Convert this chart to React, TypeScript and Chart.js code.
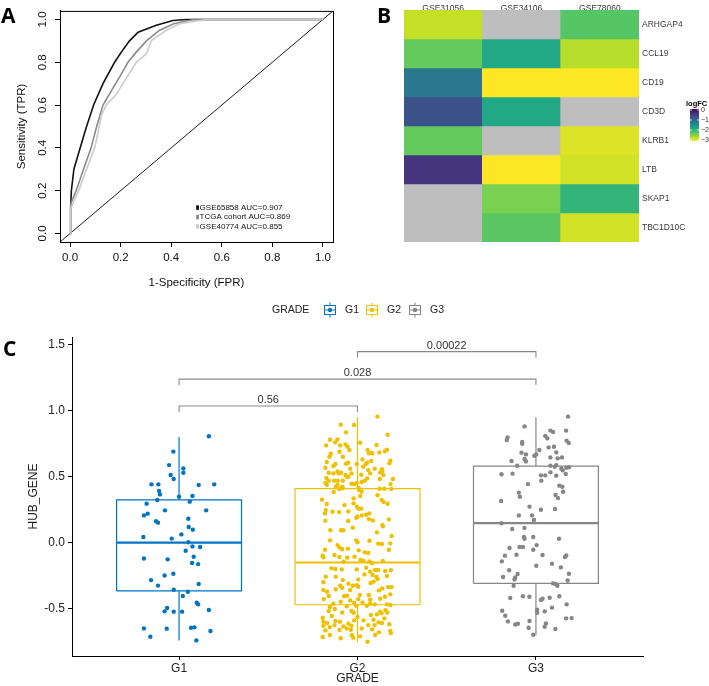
import React, { useEffect, useRef } from 'react';
import { Chart, registerables } from 'chart.js';
Chart.register(...registerables);

const FONT = "'Liberation Sans', Arial, Helvetica, sans-serif";

// ---------- Panel A : ROC ----------
const ROC_NAMES = ['GSE65858 AUC=0.907', 'TCGA cohort AUC=0.869', 'GSE40774 AUC=0.855'];
const ROC_COLORS = ['#111111', '#8a8a8a', '#cbcbcb'];
const ROC1_FPR = [0, 0.002, 0.005, 0.015, 0.04, 0.065, 0.093, 0.13, 0.176, 0.21, 0.235, 0.269, 0.341, 0.407, 0.46, 1.0];
const ROC1_TPR = [0, 0.12, 0.2, 0.3, 0.4, 0.5, 0.6, 0.7, 0.8, 0.86, 0.9, 0.94, 0.973, 0.995, 1.0, 1.0];
const ROC2_FPR = [0, 0.003, 0.024, 0.05, 0.083, 0.105, 0.13, 0.17, 0.2, 0.229, 0.26, 0.302, 0.354, 0.41, 0.487, 1.0];
const ROC2_TPR = [0, 0.14, 0.2, 0.29, 0.4, 0.5, 0.6, 0.68, 0.74, 0.8, 0.845, 0.9, 0.95, 0.98, 1.0, 1.0];
const ROC3_FPR = [0, 0.003, 0.034, 0.065, 0.097, 0.112, 0.123, 0.143, 0.183, 0.209, 0.262, 0.302, 0.321, 0.381, 0.434, 0.54, 1.0];
const ROC3_TPR = [0, 0.12, 0.2, 0.3, 0.4, 0.48, 0.55, 0.6, 0.65, 0.7, 0.8, 0.84, 0.9, 0.95, 0.98, 1.0, 1.0];
const ROC_TICKS = [0, 0.2, 0.4, 0.6, 0.8, 1.0];
const ROC_MIN = -0.04;
const ROC_MAX = 1.04;

// ---------- Panel B : heatmap ----------
const HM_COLS = ['GSE31056', 'GSE34106', 'GSE78060'];
const HM_ROWS = ['ARHGAP4', 'CCL19', 'CD19', 'CD3D', 'KLRB1', 'LTB', 'SKAP1', 'TBC1D10C'];
const HM_GSE31056 = [-2.81, -2.33, -1.18, -0.7, -2.33, -0.38, null, null];
const HM_GSE34106 = [null, -1.82, -3.1, -1.82, null, -3.1, -2.46, -2.27];
const HM_GSE78060 = [-2.24, -2.75, -3.1, null, -2.94, -2.88, -1.98, -2.88];
const LOGFC_TICKS = [0, -1, -2, -3];
const FC_MAX = 0.1;
const FC_MIN = -3.1;
const NA_COLOR = '#bebebe';
const VIRIDIS = ['#440154', '#482475', '#414487', '#355f8d', '#2a788e', '#21918c', '#22a884', '#44bf70', '#7ad151', '#bddf26', '#fde725'];

// ---------- Panel C : boxplot ----------
const GRADES = ['G1', 'G2', 'G3'];
const GRADE_COLORS = ['#0073C2', '#EFC000', '#868686'];
const BOX_LOW = [-0.74, -0.75, -0.70];
const BOX_Q1 = [-0.365, -0.47, -0.308];
const BOX_MED = [0.0, -0.15, 0.149];
const BOX_Q3 = [0.325, 0.41, 0.58];
const BOX_HIGH = [0.80, 0.95, 0.95];
const BOX_HALF = 0.35;
const C_TICKS = [-0.5, 0, 0.5, 1.0, 1.5];
const BRACKET_FROM = [0, 0, 1];
const BRACKET_TO = [1, 2, 2];
const BRACKET_Y = [1.035, 1.239, 1.447];
const BRACKET_P = ['0.56', '0.028', '0.00022'];
const BRACKET_TIP = 0.045;

// [jitter, value]
const G1_POINTS = [
  [0.167, 0.806], [-0.032, 0.690], [-0.056, 0.588], [0.024, 0.563], [0.024, 0.530], [-0.047, 0.513], [-0.030, 0.483], [-0.155, 0.442], [-0.116, 0.442], [0.110, 0.437], [0.197, 0.442], [-0.112, 0.392], [-0.107, 0.366], [0.0, 0.349], [0.075, 0.354], [-0.122, 0.323], [0.060, 0.311], [-0.182, 0.296], [-0.079, 0.245], [0.152, 0.245], [-0.197, 0.207], [-0.176, 0.220], [-0.129, 0.162], [-0.118, 0.152], [0.052, 0.182], [0.054, 0.119], [0.077, 0.099], [0.013, 0.063], [-0.200, 0.043], [-0.041, 0.031], [0.052, 0.003], [0.075, -0.028], [0.118, -0.033], [0.037, -0.061], [-0.197, -0.119], [-0.064, -0.126], [0.082, -0.106], [0.073, -0.154], [0.107, -0.162], [-0.081, -0.248], [-0.032, -0.235], [-0.157, -0.283], [-0.118, -0.325], [0.110, -0.313], [-0.030, -0.356], [0.049, -0.371], [0.021, -0.404], [0.099, -0.455], [0.107, -0.467], [-0.067, -0.495], [-0.081, -0.520], [-0.030, -0.522], [0.017, -0.522], [0.167, -0.510], [-0.197, -0.649], [-0.069, -0.651], [0.067, -0.644], [0.086, -0.641], [0.176, -0.669], [-0.161, -0.712], [0.097, -0.740],
];
const G2_POINTS = [
  [0.112, 0.955], [-0.094, 0.894], [-0.019, 0.891], [-0.064, 0.836], [0.169, 0.818], [-0.154, 0.780], [-0.112, 0.783], [-0.125, 0.760], [0.015, 0.758], [-0.176, 0.737], [-0.097, 0.737], [-0.067, 0.745], [-0.056, 0.727], [0.107, 0.740], [-0.045, 0.702], [0.056, 0.702], [0.071, 0.682], [-0.101, 0.689], [0.122, 0.684], [0.154, 0.692], [0.165, 0.705], [-0.150, 0.674], [-0.157, 0.651], [-0.082, 0.651], [0.064, 0.677], [0.082, 0.677], [0.028, 0.631], [0.184, 0.621], [-0.172, 0.611], [-0.124, 0.596], [-0.064, 0.598], [-0.052, 0.606], [-0.004, 0.596], [0.047, 0.596], [0.077, 0.619], [0.054, 0.606], [0.178, 0.601], [-0.180, 0.568], [-0.135, 0.581], [-0.041, 0.561], [0.032, 0.576], [0.097, 0.561], [0.137, 0.556], [0.060, 0.550], [-0.161, 0.530], [-0.135, 0.525], [-0.112, 0.540], [-0.105, 0.525], [-0.092, 0.530], [-0.067, 0.513], [-0.034, 0.525], [0.021, 0.515], [0.071, 0.525], [0.127, 0.533], [0.139, 0.543], [0.144, 0.513], [-0.174, 0.490], [-0.060, 0.500], [-0.051, 0.500], [-0.161, 0.470], [-0.131, 0.470], [-0.110, 0.470], [-0.082, 0.470], [0.054, 0.487], [0.125, 0.482], [0.199, 0.482], [-0.180, 0.452], [-0.112, 0.437], [-0.034, 0.447], [-0.019, 0.444], [-0.004, 0.450], [0.024, 0.460], [0.041, 0.470], [0.185, 0.444], [-0.122, 0.424], [-0.086, 0.424], [-0.172, 0.439], [-0.101, 0.407], [-0.082, 0.412], [0.006, 0.417], [0.009, 0.399], [0.124, 0.409], [0.150, 0.409], [0.189, 0.407], [-0.133, 0.384], [0.024, 0.386], [0.112, 0.359], [0.015, 0.354], [-0.199, 0.326], [-0.022, 0.336], [0.135, 0.323], [0.146, 0.308], [-0.172, 0.293], [-0.073, 0.285], [-0.022, 0.298], [-0.004, 0.273], [0.006, 0.258], [0.021, 0.258], [0.169, 0.295], [-0.178, 0.247], [-0.140, 0.235], [-0.103, 0.232], [-0.051, 0.237], [0.066, 0.222], [0.049, 0.212], [0.024, 0.207], [-0.182, 0.222], [0.000, 0.197], [-0.007, 0.189], [-0.180, 0.167], [-0.052, 0.164], [0.064, 0.179], [0.086, 0.169], [0.176, 0.177], [0.140, 0.134],
  [-0.152, 0.094], [-0.092, 0.094], [-0.079, 0.094], [-0.026, 0.114], [0.109, 0.078], [0.142, 0.124], [0.191, 0.051], [-0.154, 0.018], [-0.007, 0.018], [0.000, 0.003], [0.067, 0.015], [0.116, -0.007], [0.137, -0.010], [0.184, -0.005], [-0.112, -0.018], [-0.101, -0.035], [-0.086, -0.050], [-0.054, -0.045], [-0.182, -0.053], [0.007, -0.058], [0.041, -0.073], [0.060, -0.078], [0.176, -0.053], [-0.195, -0.098], [-0.191, -0.111], [-0.129, -0.093], [-0.101, -0.108], [-0.058, -0.113], [-0.017, -0.106], [0.017, -0.131], [0.034, -0.139], [0.067, -0.141], [0.082, -0.156], [0.142, -0.139], [-0.077, -0.144], [-0.146, -0.194], [-0.124, -0.199], [-0.088, -0.202], [-0.004, -0.202], [0.049, -0.189], [0.071, -0.220], [0.099, -0.207], [0.116, -0.207], [0.155, -0.214], [0.187, -0.209], [-0.178, -0.257], [-0.122, -0.257], [-0.082, -0.283], [0.004, -0.278], [0.039, -0.240], [0.084, -0.245], [0.105, -0.257], [0.112, -0.275], [0.165, -0.252], [-0.191, -0.300], [-0.051, -0.310], [0.073, -0.305], [0.090, -0.295], [-0.097, -0.326], [-0.086, -0.341], [-0.026, -0.326], [-0.004, -0.321], [0.004, -0.333], [0.139, -0.346], [0.172, -0.336], [0.191, -0.336], [-0.191, -0.358], [-0.170, -0.371], [-0.122, -0.353], [-0.041, -0.358], [0.120, -0.361], [-0.161, -0.404], [-0.075, -0.406], [-0.058, -0.401], [0.013, -0.396], [0.064, -0.396], [0.154, -0.409], [0.184, -0.391], [-0.189, -0.427], [-0.041, -0.437], [0.004, -0.427], [0.071, -0.432], [0.127, -0.424], [-0.135, -0.462], [-0.094, -0.447], [-0.019, -0.454], [0.028, -0.452], [0.097, -0.467], [-0.154, -0.487], [-0.127, -0.502], [-0.060, -0.482], [-0.007, -0.477], [0.052, -0.477], [0.071, -0.462], [0.165, -0.467], [0.184, -0.472], [-0.161, -0.517], [-0.086, -0.528], [-0.034, -0.517], [-0.022, -0.530], [0.127, -0.523], [0.157, -0.512], [-0.195, -0.568], [-0.144, -0.555], [0.000, -0.563], [0.075, -0.548], [0.109, -0.543], [0.135, -0.535], [0.167, -0.528], [-0.191, -0.598], [-0.170, -0.608], [-0.124, -0.593], [-0.099, -0.598], [-0.051, -0.613], [-0.019, -0.588], [0.034, -0.588], [0.090, -0.583], [0.118, -0.603], [0.150, -0.573], [-0.191, -0.629], [-0.155, -0.639], [-0.129, -0.624], [-0.079, -0.634], [-0.034, -0.629], [0.060, -0.624], [0.096, -0.624], [0.137, -0.608], [0.178, -0.618], [-0.180, -0.664], [-0.101, -0.661], [-0.060, -0.649], [0.024, -0.649], [0.082, -0.656], [0.120, -0.679], [0.184, -0.669], [-0.154, -0.699], [-0.032, -0.699], [-0.024, -0.719], [0.015, -0.709], [0.099, -0.699], [0.187, -0.684], [-0.195, -0.714], [-0.094, -0.724], [0.056, -0.750], [-0.037, -0.659],
];
const G3_POINTS = [
  [0.180, 0.955], [-0.064, 0.881], [-0.159, 0.798], [-0.163, 0.778], [0.081, 0.849], [0.096, 0.839], [0.169, 0.849], [0.052, 0.808], [0.064, 0.790], [0.172, 0.773], [0.184, 0.755], [-0.077, 0.763], [-0.077, 0.750], [0.071, 0.722], [0.101, 0.727], [-0.081, 0.682], [-0.056, 0.669], [0.019, 0.702], [-0.009, 0.659], [0.002, 0.669], [0.114, 0.684], [0.081, 0.646], [0.146, 0.646], [0.122, 0.639], [-0.064, 0.634], [-0.056, 0.616], [-0.137, 0.619], [-0.105, 0.583], [0.081, 0.583], [0.105, 0.576], [0.114, 0.588], [0.142, 0.563], [0.150, 0.548], [0.170, 0.568], [0.185, 0.571], [-0.193, 0.518], [-0.131, 0.523], [0.028, 0.510], [0.052, 0.510], [0.081, 0.533], [0.114, 0.508], [0.167, 0.520], [0.030, 0.470], [-0.045, 0.444], [0.131, 0.432], [0.148, 0.424], [0.152, 0.386], [-0.096, 0.379], [-0.090, 0.348], [0.110, 0.361], [0.124, 0.338], [-0.195, 0.316], [-0.036, 0.273], [0.028, 0.250], [0.107, 0.255], [-0.096, 0.207], [-0.022, 0.207], [-0.011, 0.172], [-0.193, 0.147], [-0.133, 0.104], [-0.064, 0.112], [-0.067, 0.043], [-0.064, 0.030], [-0.015, 0.043], [0.129, 0.030], [-0.148, -0.040], [-0.092, -0.033], [-0.073, -0.033], [0.004, -0.018], [-0.015, -0.053], [-0.174, -0.098], [-0.109, -0.091], [0.037, -0.093], [-0.191, -0.141], [0.163, -0.108], [0.170, -0.096], [0.002, -0.174], [0.090, -0.159], [0.140, -0.187], [-0.150, -0.209], [-0.103, -0.237], [-0.116, -0.263], [-0.120, -0.278], [-0.184, -0.260], [0.185, -0.235], [0.178, -0.286], [-0.125, -0.326], [0.096, -0.308], [0.109, -0.313], [0.120, -0.326], [-0.144, -0.419], [-0.073, -0.406], [-0.037, -0.409], [0.028, -0.434], [0.037, -0.424], [0.077, -0.417], [0.131, -0.406], [0.007, -0.507], [0.007, -0.530], [0.049, -0.520], [0.090, -0.492], [0.172, -0.467], [-0.189, -0.515], [-0.172, -0.553], [-0.157, -0.596], [-0.116, -0.619], [-0.101, -0.614], [-0.036, -0.593], [-0.041, -0.644], [0.056, -0.611], [0.049, -0.636], [0.109, -0.654], [0.169, -0.573], [0.200, -0.571], [-0.015, -0.697],
];
const GROUP_POINTS = [G1_POINTS, G2_POINTS, G3_POINTS];

// ---------- helpers ----------
function hexRgb(h: string) {
  const n = parseInt(h.slice(1), 16);
  return [(n >> 16) & 255, (n >> 8) & 255, n & 255];
}
function viridis(t: number) {
  const c = Math.max(0, Math.min(1, t)) * (VIRIDIS.length - 1);
  const i = Math.min(VIRIDIS.length - 2, Math.floor(c));
  const f = c - i;
  const a = hexRgb(VIRIDIS[i]);
  const b = hexRgb(VIRIDIS[i + 1]);
  const m = a.map((v, k) => Math.round(v + (b[k] - v) * f));
  return `rgb(${m[0]},${m[1]},${m[2]})`;
}
function fcColor(v: number | null) {
  if (v === null || v === undefined) return NA_COLOR;
  return viridis((FC_MAX - v) / (FC_MAX - FC_MIN));
}
function letter(ctx: CanvasRenderingContext2D, txt: string, x: number, y: number) {
  ctx.save();
  ctx.fillStyle = '#000';
  ctx.font = "bold 21px 'Open Sans', 'Liberation Sans', sans-serif";
  ctx.textAlign = 'left';
  ctx.textBaseline = 'alphabetic';
  ctx.fillText(txt, x, y);
  ctx.restore();
}

// ---------- configs ----------
function configA(): any {
  const series = [
    [ROC1_FPR, ROC1_TPR],
    [ROC2_FPR, ROC2_TPR],
    [ROC3_FPR, ROC3_TPR],
  ];
  const datasets: any[] = series.map(([f, t], i) => ({
    label: ROC_NAMES[i],
    data: f.map((x, k) => ({ x, y: t[k] })),
    showLine: true,
    borderColor: ROC_COLORS[i],
    borderWidth: 1.6,
    pointRadius: 0,
    order: 3 - i,
  }));
  datasets.push({
    label: 'diag',
    data: [{ x: ROC_MIN, y: ROC_MIN }, { x: ROC_MAX, y: ROC_MAX }],
    showLine: true,
    borderColor: '#000',
    borderWidth: 0.9,
    pointRadius: 0,
    order: 10,
  });
  const tickFont = { size: 11.5, family: FONT };
  const plugin = {
    id: 'rocExtras',
    afterDraw(chart: any) {
      const { ctx, chartArea: ca } = chart;
      ctx.save();
      ctx.strokeStyle = '#000';
      ctx.lineWidth = 1;
      ctx.strokeRect(ca.left + 0.5, ca.top + 0.5, ca.right - ca.left, ca.bottom - ca.top);
      ctx.font = `8px ${FONT}`;
      ctx.textBaseline = 'middle';
      ctx.textAlign = 'left';
      ROC_NAMES.forEach((name, i) => {
        const y = ca.top + 196.7 + i * 9.4;
        ctx.fillStyle = ROC_COLORS[i];
        ctx.fillRect(ca.left + 136.2, y - 2.3, 2.8, 4.6);
        ctx.fillStyle = '#111';
        ctx.fillText(name, ca.left + 139.6, y);
      });
      ctx.restore();
      letter(ctx, 'A', 1, 23);
    },
  };
  return {
    type: 'scatter',
    data: { datasets },
    plugins: [plugin],
    options: {
      animation: false,
      responsive: false,
      events: [],
      layout: { padding: { left: 0, right: 12, top: 5, bottom: 0 } },
      plugins: { legend: { display: false }, tooltip: { enabled: false } },
      scales: {
        x: {
          type: 'linear', min: ROC_MIN, max: ROC_MAX,
          afterBuildTicks: (s: any) => { s.ticks = ROC_TICKS.map((v) => ({ value: v })); },
          afterFit: (s: any) => { s.height = 58; },
          ticks: { callback: (v: number) => v.toFixed(1), font: tickFont, color: '#111', padding: 4, maxRotation: 0, autoSkip: false },
          grid: { drawOnChartArea: false, drawTicks: true, tickLength: 5, color: '#000' },
          border: { display: true, color: '#000', width: 1 },
          title: { display: true, text: '1-Specificity (FPR)', font: tickFont, color: '#111', padding: { top: 0, bottom: 10 } },
        },
        y: {
          type: 'linear', min: ROC_MIN, max: ROC_MAX,
          afterBuildTicks: (s: any) => { s.ticks = ROC_TICKS.map((v) => ({ value: v })); },
          afterFit: (s: any) => { s.width = 60; },
          ticks: { callback: (v: number) => v.toFixed(1), font: tickFont, color: '#111', padding: 4, minRotation: 90, maxRotation: 90, crossAlign: 'center', autoSkip: false },
          grid: { drawOnChartArea: false, drawTicks: true, tickLength: 5, color: '#000' },
          border: { display: true, color: '#000', width: 1 },
          title: { display: true, text: 'Sensitivity (TPR)', font: tickFont, color: '#111', padding: { top: 15, bottom: 0 } },
        },
      },
    },
  };
}

function configB(): any {
  const cols = [HM_GSE31056, HM_GSE34106, HM_GSE78060];
  const datasets = HM_ROWS.map((row, r) => ({
    label: row,
    data: HM_COLS.map(() => [r, r + 1]),
    backgroundColor: cols.map((c) => fcColor(c[r])),
    borderWidth: 0,
    grouped: false,
    barPercentage: 1,
    categoryPercentage: 1,
  }));
  const plugin = {
    id: 'hmLegend',
    afterDraw(chart: any) {
      const { ctx, chartArea: ca } = chart;
      const x0 = ca.right + 51;
      const w = 9;
      const yTop = 109;
      const yBot = 141;
      ctx.save();
      const g = ctx.createLinearGradient(0, yTop, 0, yBot);
      VIRIDIS.forEach((c, i) => g.addColorStop(i / (VIRIDIS.length - 1), c));
      ctx.fillStyle = g;
      ctx.fillRect(x0, yTop, w, yBot - yTop);
      ctx.font = `bold 7.5px ${FONT}`;
      ctx.fillStyle = '#000';
      ctx.textAlign = 'left';
      ctx.textBaseline = 'alphabetic';
      ctx.fillText('logFC', x0 - 4, 106);
      ctx.font = `7px ${FONT}`;
      ctx.textBaseline = 'middle';
      ctx.fillStyle = '#333';
      LOGFC_TICKS.forEach((v) => {
        const y = yTop + ((FC_MAX - v) / (FC_MAX - FC_MIN)) * (yBot - yTop);
        ctx.strokeStyle = '#fff';
        ctx.lineWidth = 0.8;
        ctx.beginPath();
        ctx.moveTo(x0, y); ctx.lineTo(x0 + 2, y);
        ctx.moveTo(x0 + w - 2, y); ctx.lineTo(x0 + w, y);
        ctx.stroke();
        ctx.fillText(v === 0 ? '0' : '\u2212' + Math.abs(v), x0 + w + 2, y);
      });
      ctx.restore();
      letter(ctx, 'B', 17, 23);
    },
  };
  const lblFont = { size: 8.5, family: FONT };
  return {
    type: 'bar',
    data: { labels: HM_COLS, datasets },
    plugins: [plugin],
    options: {
      animation: false,
      responsive: false,
      events: [],
      layout: { padding: { left: 44, right: 0, top: 0, bottom: 8 } },
      plugins: { legend: { display: false }, tooltip: { enabled: false } },
      scales: {
        x: {
          type: 'category', position: 'top',
          afterFit: (s: any) => { s.height = 10; },
          grid: { display: false, drawTicks: false }, border: { display: false },
          ticks: { font: lblFont, color: '#3a3a3a', padding: -4, maxRotation: 0, autoSkip: false },
        },
        y: {
          type: 'linear', position: 'right', min: 0, max: HM_ROWS.length, reverse: true,
          afterBuildTicks: (s: any) => { s.ticks = HM_ROWS.map((_, i) => ({ value: i + 0.5 })); },
          afterFit: (s: any) => { s.width = 70; },
          grid: { display: false, drawTicks: false }, border: { display: false },
          ticks: { callback: (v: number) => HM_ROWS[Math.floor(v)], font: lblFont, color: '#3a3a3a', padding: 3, autoSkip: false },
        },
      },
    },
  };
}

function configC(): any {
  const datasets: any[] = [];
  GROUP_POINTS.forEach((pts, i) => {
    datasets.push({
      label: GRADES[i] + ' points',
      data: pts.map(([j, v]) => ({ x: i + 1 + j, y: v })),
      pointRadius: 2.2,
      pointBackgroundColor: GRADE_COLORS[i],
      pointBorderWidth: 0,
      showLine: false,
      order: 0,
    });
  });
  const line = (label: string, data: any[], color: string, width: number, order: number) => ({
    label, data, showLine: true, borderColor: color, borderWidth: width, pointRadius: 0, order,
    borderJoinStyle: 'miter', borderCapStyle: 'butt',
  });
  GRADES.forEach((g, i) => {
    const x = i + 1;
    const c = GRADE_COLORS[i];
    datasets.push(line(g + ' box', [
      { x: x - BOX_HALF, y: BOX_Q1 }, { x: x + BOX_HALF, y: BOX_Q1 }, { x: x + BOX_HALF, y: BOX_Q3 },
      { x: x - BOX_HALF, y: BOX_Q3 }, { x: x - BOX_HALF, y: BOX_Q1 },
    ].map((p: any) => ({ x: p.x, y: p.y[i] })), c, 1.2, 2));
    datasets.push(line(g + ' median', [{ x: x - BOX_HALF, y: BOX_MED[i] }, { x: x + BOX_HALF, y: BOX_MED[i] }], c, 2.2, 2));
    datasets.push(line(g + ' upper', [{ x, y: BOX_Q3[i] }, { x, y: BOX_HIGH[i] }], c, 1.2, 2));
    datasets.push(line(g + ' lower', [{ x, y: BOX_LOW[i] }, { x, y: BOX_Q1[i] }], c, 1.2, 2));
  });
  BRACKET_Y.forEach((y, k) => {
    const x1 = BRACKET_FROM[k] + 1;
    const x2 = BRACKET_TO[k] + 1;
    datasets.push(line('bracket ' + BRACKET_P[k], [
      { x: x1, y: y - BRACKET_TIP }, { x: x1, y }, { x: x2, y }, { x: x2, y: y - BRACKET_TIP },
    ], '#8a8a8a', 1.1, 1));
  });
  const tickFont = { size: 12, family: FONT };
  const plugin = {
    id: 'boxExtras',
    afterDatasetsDraw(chart: any) {
      const { ctx, scales } = chart;
      ctx.save();
      ctx.font = `11px ${FONT}`;
      ctx.fillStyle = '#333';
      ctx.textAlign = 'center';
      ctx.textBaseline = 'alphabetic';
      BRACKET_Y.forEach((y, k) => {
        const xm = (scales.x.getPixelForValue(BRACKET_FROM[k] + 1) + scales.x.getPixelForValue(BRACKET_TO[k] + 1)) / 2;
        ctx.fillText(BRACKET_P[k], xm, scales.y.getPixelForValue(y) - 3);
      });
      ctx.restore();
    },
    afterDraw(chart: any) {
      const { ctx } = chart;
      ctx.save();
      const ly = 20;
      ctx.font = `10.5px ${FONT}`;
      ctx.fillStyle = '#222';
      ctx.textBaseline = 'middle';
      ctx.textAlign = 'left';
      ctx.fillText('GRADE', 272, ly);
      const keyX = [330, 372, 415];
      GRADES.forEach((g, i) => {
        const cx = keyX[i];
        const c = GRADE_COLORS[i];
        ctx.strokeStyle = c;
        ctx.lineWidth = 1;
        ctx.strokeRect(cx - 5.5, ly - 4.5, 11, 9);
        ctx.beginPath();
        ctx.moveTo(cx, ly - 7.5); ctx.lineTo(cx, ly - 4.5);
        ctx.moveTo(cx, ly + 4.5); ctx.lineTo(cx, ly + 7.5);
        ctx.moveTo(cx - 5.5, ly); ctx.lineTo(cx + 5.5, ly);
        ctx.stroke();
        ctx.fillStyle = c;
        ctx.beginPath();
        ctx.arc(cx, ly, 2.2, 0, Math.PI * 2);
        ctx.fill();
        ctx.fillStyle = '#222';
        ctx.fillText(g, cx + 15, ly);
      });
      ctx.restore();
      letter(ctx, 'C', 3, 66);
    },
  };
  return {
    type: 'scatter',
    data: { datasets },
    plugins: [plugin],
    options: {
      animation: false,
      responsive: false,
      events: [],
      layout: { padding: { left: 0, right: 66, top: 47, bottom: 0 } },
      plugins: { legend: { display: false }, tooltip: { enabled: false } },
      scales: {
        x: {
          type: 'linear', min: 0.4, max: 3.6,
          afterBuildTicks: (s: any) => { s.ticks = GRADES.map((_, i) => ({ value: i + 1 })); },
          afterFit: (s: any) => { s.height = 30; },
          ticks: { callback: (v: number) => GRADES[Math.round(v) - 1], font: tickFont, color: '#222', padding: 1, maxRotation: 0, autoSkip: false },
          grid: { drawOnChartArea: false, drawTicks: true, tickLength: 4, color: '#000' },
          border: { display: true, color: '#000', width: 1 },
          title: { display: true, text: 'GRADE', font: tickFont, color: '#222', padding: { top: 0, bottom: 0 } },
        },
        y: {
          type: 'linear', min: -0.858, max: 1.558,
          afterBuildTicks: (s: any) => { s.ticks = C_TICKS.map((v) => ({ value: v })); },
          afterFit: (s: any) => { s.width = 72; },
          ticks: { callback: (v: number) => v.toFixed(1), font: tickFont, color: '#222', padding: 3, autoSkip: false },
          grid: { drawOnChartArea: false, drawTicks: true, tickLength: 4, color: '#000' },
          border: { display: true, color: '#000', width: 1 },
          title: { display: true, text: 'HUB_GENE', font: tickFont, color: '#222', padding: { top: 26, bottom: 0 } },
        },
      },
    },
  };
}

export default function App() {
  const refA = useRef<HTMLCanvasElement>(null);
  const refB = useRef<HTMLCanvasElement>(null);
  const refC = useRef<HTMLCanvasElement>(null);
  useEffect(() => {
    Chart.defaults.font.family = FONT;
    const a = new Chart(refA.current as HTMLCanvasElement, configA());
    const b = new Chart(refB.current as HTMLCanvasElement, configB());
    const c = new Chart(refC.current as HTMLCanvasElement, configC());
    return () => { a.destroy(); b.destroy(); c.destroy(); };
  }, []);
  return (
    <div style={{ position: 'absolute', left: 0, top: 0, width: 709, height: 686, background: '#fff', overflow: 'hidden' }}>
      <canvas ref={refA} width={345} height={300} style={{ position: 'absolute', left: 0, top: 0 }} />
      <canvas ref={refB} width={349} height={250} style={{ position: 'absolute', left: 360, top: 0 }} />
      <canvas ref={refC} width={709} height={396} style={{ position: 'absolute', left: 0, top: 290 }} />
    </div>
  );
}
